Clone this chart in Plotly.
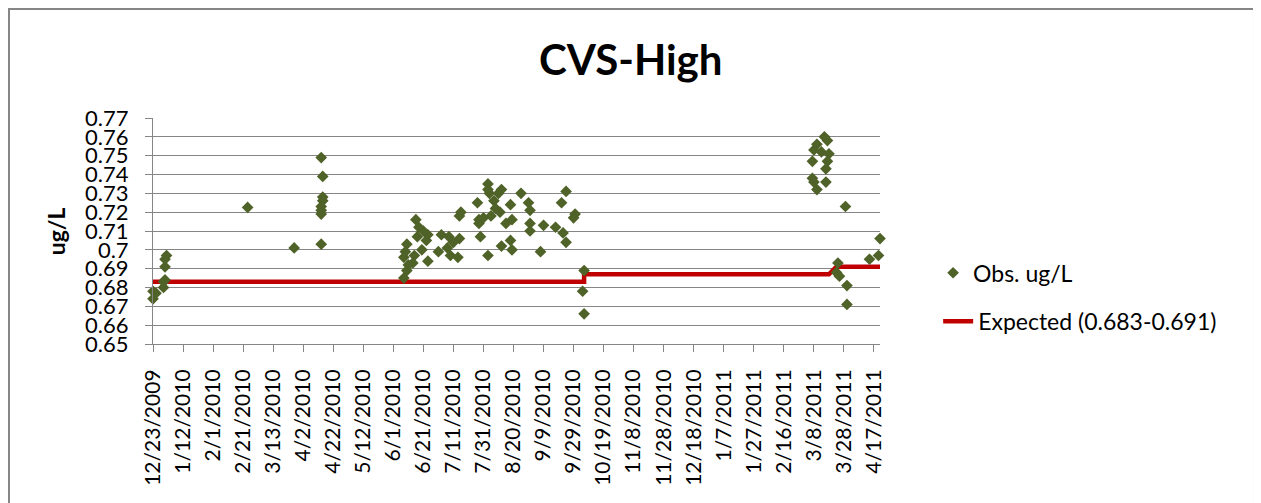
import pandas as pd
import plotly.graph_objects as go

# Observed CVS-High results (ug/L)
obs_dates = [
    "2009-12-23", "2009-12-23", "2009-12-25", "2009-12-30", "2009-12-30", "2009-12-31",
    "2009-12-31", "2009-12-31", "2010-01-01",
    "2010-02-24", "2010-03-27",
    "2010-04-14", "2010-04-15", "2010-04-15", "2010-04-15", "2010-04-14", "2010-04-14",
    "2010-04-14", "2010-04-14",
    "2010-06-08", "2010-06-10", "2010-06-11", "2010-06-08", "2010-06-10", "2010-06-09",
    "2010-06-16", "2010-06-18", "2010-06-17", "2010-06-15", "2010-06-14", "2010-06-20",
    "2010-06-24", "2010-06-24", "2010-06-23", "2010-06-21",
    "2010-07-03", "2010-07-01", "2010-07-07", "2010-07-08", "2010-07-09", "2010-07-15",
    "2010-07-14", "2010-07-15", "2010-07-16", "2010-07-11",
    "2010-07-27", "2010-07-28", "2010-07-29", "2010-07-28", "2010-07-31",
    "2010-08-03", "2010-08-04", "2010-08-03", "2010-08-03", "2010-08-05", "2010-08-07",
    "2010-08-08", "2010-08-10", "2010-08-12", "2010-08-11", "2010-08-15", "2010-08-18",
    "2010-08-19", "2010-08-18", "2010-08-19", "2010-08-12", "2010-08-25", "2010-08-30",
    "2010-08-31", "2010-08-31", "2010-08-31",
    "2010-09-07", "2010-09-09", "2010-09-17", "2010-09-24", "2010-09-21", "2010-09-22",
    "2010-09-24", "2010-09-30", "2010-09-29",
    "2010-10-06", "2010-10-05", "2010-10-06",
    "2011-03-15", "2011-03-17", "2011-03-10", "2011-03-08", "2011-03-13", "2011-03-18",
    "2011-03-07", "2011-03-17", "2011-03-16", "2011-03-07", "2011-03-08", "2011-03-16",
    "2011-03-10",
    "2011-03-29", "2011-03-24", "2011-03-23", "2011-03-25", "2011-03-30", "2011-03-30",
    "2011-04-14", "2011-04-20", "2011-04-21",
]
obs_values = [
    0.674, 0.678, 0.677, 0.680, 0.683, 0.684,
    0.691, 0.695, 0.697,
    0.7225, 0.701,
    0.749, 0.739, 0.728, 0.726, 0.723, 0.721,
    0.719, 0.703,
    0.685, 0.689, 0.692, 0.696, 0.703, 0.699,
    0.716, 0.712, 0.707, 0.697, 0.693, 0.700,
    0.708, 0.694, 0.705, 0.710,
    0.708, 0.699, 0.701, 0.707, 0.697, 0.706,
    0.696, 0.718, 0.720, 0.704,
    0.725, 0.714, 0.707, 0.716, 0.717,
    0.697, 0.730, 0.735, 0.732, 0.718, 0.726,
    0.722, 0.730, 0.732, 0.720, 0.714, 0.724,
    0.716, 0.705, 0.700, 0.702, 0.730, 0.725,
    0.721, 0.714, 0.710,
    0.699, 0.713, 0.712, 0.731, 0.725, 0.709,
    0.704, 0.719, 0.717,
    0.689, 0.678, 0.666,
    0.760, 0.758, 0.756, 0.753, 0.752, 0.751,
    0.747, 0.747, 0.743, 0.738, 0.736, 0.736,
    0.732,
    0.723, 0.693, 0.688, 0.686, 0.681, 0.671,
    0.695, 0.697, 0.706,
]

# Expected value (step line)
exp_dates = ["2009-12-23", "2010-10-06", "2010-10-06", "2011-03-18", "2011-03-23", "2011-04-21"]
exp_values = [0.683, 0.683, 0.687, 0.687, 0.691, 0.691]

x_tick_labels = [
    "12/23/2009", "1/12/2010", "2/1/2010", "2/21/2010", "3/13/2010", "4/2/2010",
    "4/22/2010", "5/12/2010", "6/1/2010", "6/21/2010", "7/11/2010", "7/31/2010",
    "8/20/2010", "9/9/2010", "9/29/2010", "10/19/2010", "11/8/2010", "11/28/2010",
    "12/18/2010", "1/7/2011", "1/27/2011", "2/16/2011", "3/8/2011", "3/28/2011",
    "4/17/2011",
]
y_tick_labels = ["0.65", "0.66", "0.67", "0.68", "0.69", "0.7", "0.71",
                 "0.72", "0.73", "0.74", "0.75", "0.76", "0.77"]

FONT = "Lato, Calibri, sans-serif"
GRID = "#868686"

fig = go.Figure()

fig.add_trace(go.Scatter(
    x=pd.to_datetime(exp_dates),
    y=exp_values,
    mode="lines",
    name="Expected (0.683-0.691)",
    line=dict(color="#C00000", width=4.5),
    legend="legend2",
))

fig.add_trace(go.Scatter(
    x=pd.to_datetime(obs_dates),
    y=obs_values,
    mode="markers",
    name="Obs. ug/L",
    marker=dict(symbol="diamond", size=9, color="#4F6228"),
    cliponaxis=False,
    legend="legend",
))

# page body adds an 8px margin, so the figure is 8px smaller than the window
fig.update_layout(
    width=1253,
    height=495,
    paper_bgcolor="white",
    plot_bgcolor="white",
    margin=dict(l=145, r=381, t=110, b=159, autoexpand=False),
    font=dict(family=FONT, color="#000000", size=20),
    title=dict(
        text="<b>CVS-High</b>",
        x=0.497, xref="container", xanchor="center",
        y=0.895, yref="container", yanchor="middle",
        font=dict(family=FONT, size=42, color="#000000"),
    ),
    xaxis=dict(
        range=[pd.Timestamp("2009-12-23"), pd.Timestamp("2011-04-21")],
        tickmode="array",
        tickvals=pd.to_datetime(x_tick_labels, format="%m/%d/%Y"),
        ticktext=x_tick_labels,
        tickangle=-90,
        tickfont=dict(size=21),
        ticklabelstandoff=9,
        showgrid=False,
        showline=True,
        linecolor=GRID,
        ticks="outside",
        ticklen=7,
        tickcolor=GRID,
        zeroline=False,
    ),
    yaxis=dict(
        range=[0.65, 0.77],
        tickmode="array",
        tickvals=[float(v) for v in y_tick_labels],
        ticktext=y_tick_labels,
        tickfont=dict(size=22),
        ticklabelstandoff=12,
        showgrid=True,
        gridcolor=GRID,
        gridwidth=1,
        showline=True,
        linecolor=GRID,
        ticks="outside",
        ticklen=7,
        tickcolor=GRID,
        zeroline=False,
    ),
    legend=dict(
        x=1.073, xanchor="left",
        y=0.315, yanchor="middle",
        font=dict(size=23),
        bgcolor="rgba(0,0,0,0)",
    ),
    legend2=dict(
        x=1.08, xanchor="left",
        y=0.10, yanchor="middle",
        font=dict(size=23),
        bgcolor="rgba(0,0,0,0)",
    ),
    showlegend=True,
)

# y axis title
fig.add_annotation(
    text="<b>ug/L</b>",
    x=-0.155, y=0.5, xref="paper", yref="paper",
    textangle=-90, showarrow=False,
    font=dict(family=FONT, size=23, color="#000000"),
)

# chart border
fig.add_shape(
    type="rect", xref="paper", yref="paper",
    x0=-0.1981, x1=1.5144, y0=-0.75, y1=1.482,
    line=dict(color=GRID, width=2),
    fillcolor="rgba(0,0,0,0)",
)

fig.write_html("out.html")
